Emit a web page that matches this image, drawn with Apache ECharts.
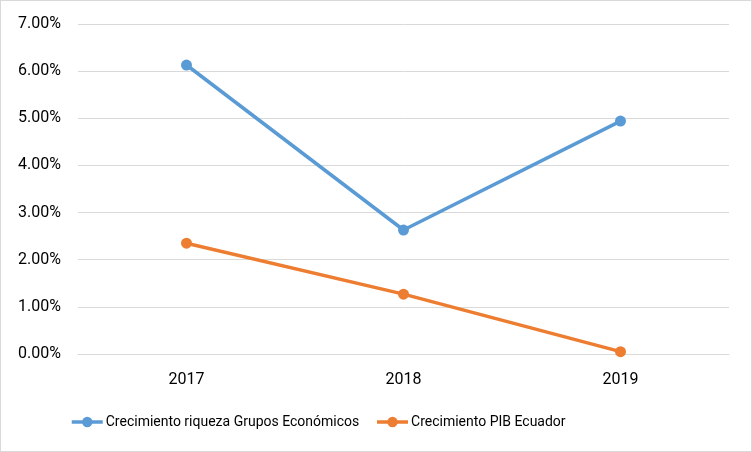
<!DOCTYPE html>
<html><head><meta charset="utf-8">
<script src="https://cdn.jsdelivr.net/npm/echarts@6/dist/echarts.min.js"></script>
<style>html,body{margin:0;padding:0;background:#fff}#c{width:750px;height:450px;border:1px solid #d9d9d9}</style>
</head><body><div id="c"></div>
<script>
const categories = ['2017', '2018', '2019'];
const riquezaGrupos = [6.13, 2.63, 4.94];
const pibEcuador = [2.35, 1.27, 0.05];
const seriesNames = ['Crecimiento riqueza Grupos Económicos', 'Crecimiento PIB Ecuador'];
const FONT = 'Roboto';
const chart = echarts.init(document.getElementById('c'));
chart.setOption({
  animation: false,
  textStyle: {fontFamily: FONT},
  grid: {left: 77, right: 22, top: 23, bottom: 97},
  legend: {
    left: 64, top: 409, itemWidth: 31, itemHeight: 13, itemGap: 16,
    lineStyle: {width: 3.5},
    textStyle: {fontFamily: FONT, fontSize: 14, color: '#000', padding: [0,0,0,-2]},
    data: seriesNames
  },
  xAxis: {
    type: 'category', data: categories, boundaryGap: true,
    axisLine: {lineStyle: {color: '#d9d9d9'}}, axisTick: {show: false},
    axisLabel: {color: '#000', fontSize: 16, fontFamily: FONT, margin: 18}
  },
  yAxis: {
    type: 'value', min: 0, max: 7, interval: 1,
    axisLine: {show: false}, axisTick: {show: false},
    splitLine: {lineStyle: {color: '#d9d9d9'}},
    axisLabel: {color: '#000', fontSize: 16, fontFamily: FONT, margin: 17,
      formatter: v => v.toFixed(2) + '%'}
  },
  series: [
    {name: seriesNames[0], type: 'line', data: riquezaGrupos, symbol: 'circle', symbolSize: 11,
     lineStyle: {width: 3.5, color: '#5b9bd5'}, itemStyle: {color: '#5b9bd5'}},
    {name: seriesNames[1], type: 'line', data: pibEcuador, symbol: 'circle', symbolSize: 11,
     lineStyle: {width: 3.5, color: '#ed7d31'}, itemStyle: {color: '#ed7d31'}}
  ]
});
</script></body></html>
